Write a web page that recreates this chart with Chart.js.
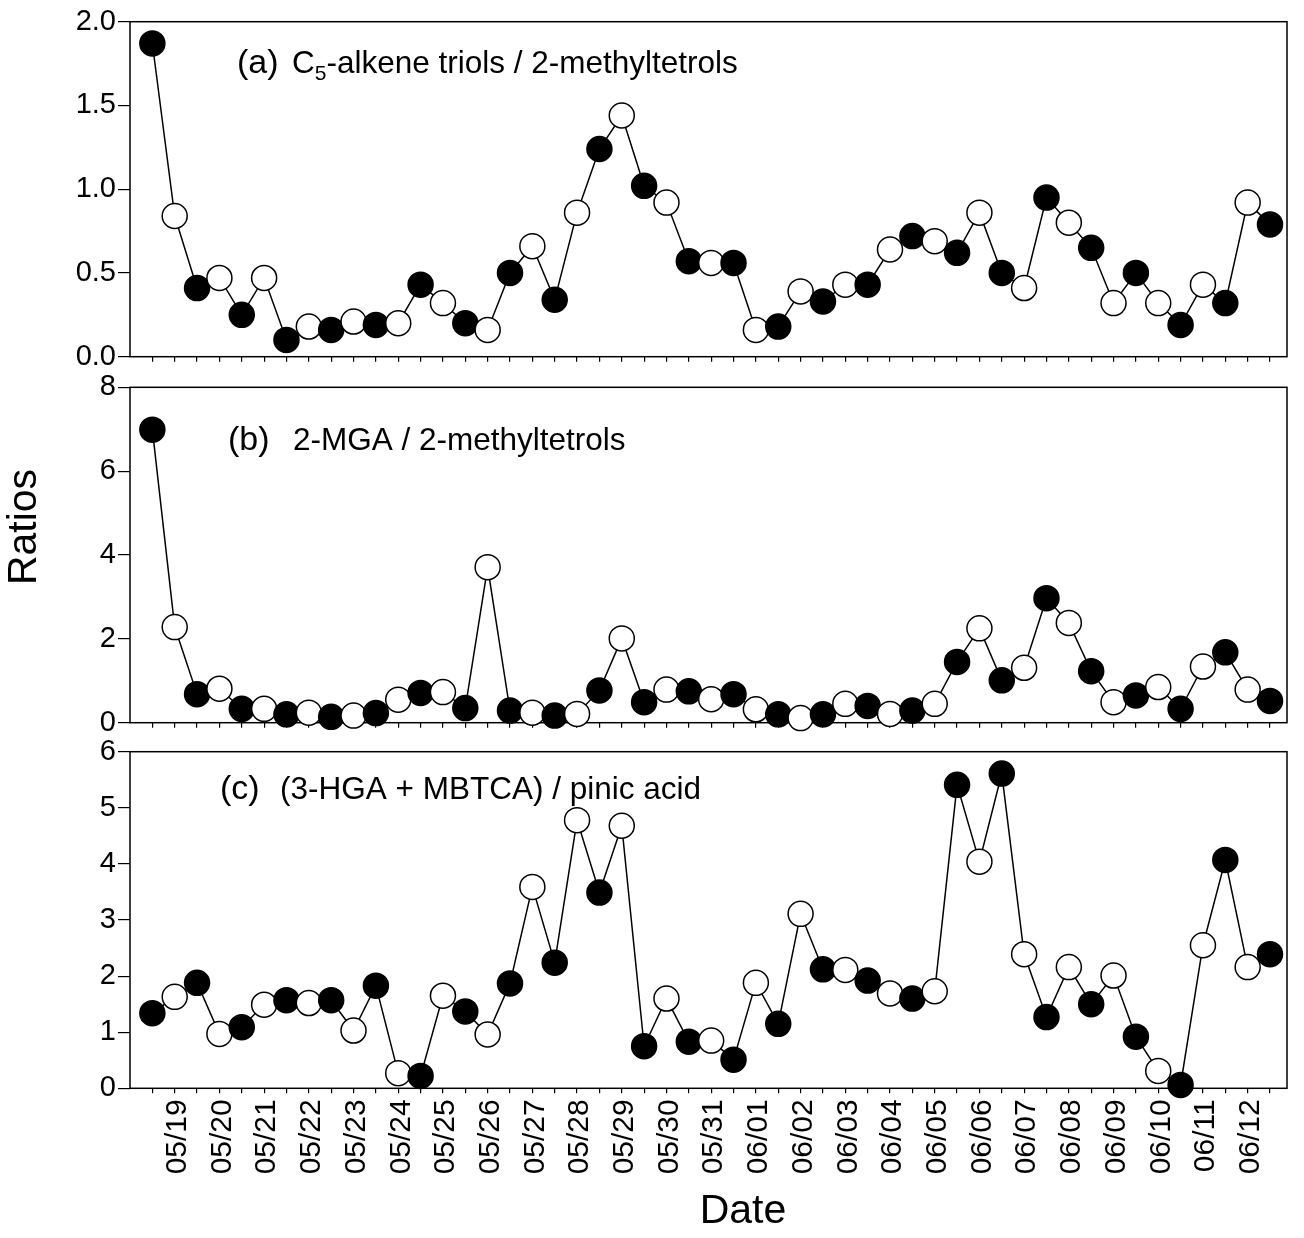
<!DOCTYPE html>
<html>
<head>
<meta charset="utf-8">
<title>Ratios</title>
<script src="https://cdn.jsdelivr.net/npm/chart.js@4.4.1/dist/chart.umd.min.js"></script>
<style>
  html, body { margin: 0; padding: 0; background: #fff; }
  #wrap { position: relative; width: 1304px; height: 1238px; overflow: hidden; background: #fff; }
  #wrap canvas { position: absolute; left: 0; }
</style>
</head>
<body>
<div id="wrap">
  <canvas id="chartA" width="1304" height="380" style="top:0px"></canvas>
  <canvas id="chartB" width="1304" height="380" style="top:366px"></canvas>
  <canvas id="chartC" width="1304" height="508" style="top:730px"></canvas>
</div>
<script>
// tick labels on the shared date axis (one every second sample)
const dateLabels = ['05/19', '05/20', '05/21', '05/22', '05/23', '05/24', '05/25', '05/26',
  '05/27', '05/28', '05/29', '05/30', '05/31', '06/01', '06/02', '06/03', '06/04', '06/05',
  '06/06', '06/07', '06/08', '06/09', '06/10', '06/11', '06/12'];

// (a) C5-alkene triols / 2-methyltetrols
const ratioA = [1.87, 0.84, 0.41, 0.47, 0.25, 0.47, 0.10, 0.18, 0.16, 0.21,
  0.19, 0.20, 0.43, 0.32, 0.20, 0.16, 0.50, 0.66, 0.34, 0.86,
  1.24, 1.44, 1.02, 0.92, 0.57, 0.56, 0.56, 0.16, 0.18, 0.39,
  0.33, 0.43, 0.43, 0.64, 0.72, 0.69, 0.62, 0.86, 0.50, 0.41,
  0.95, 0.80, 0.65, 0.32, 0.50, 0.32, 0.19, 0.43, 0.32, 0.92, 0.79];

// (b) 2-MGA / 2-methyltetrols
const ratioB = [6.99, 2.28, 0.68, 0.81, 0.33, 0.33, 0.20, 0.24, 0.14, 0.17,
  0.23, 0.55, 0.71, 0.73, 0.35, 3.71, 0.29, 0.24, 0.17, 0.21,
  0.77, 2.01, 0.49, 0.79, 0.75, 0.56, 0.68, 0.32, 0.20, 0.11,
  0.20, 0.45, 0.40, 0.21, 0.29, 0.45, 1.45, 2.25, 1.01, 1.31,
  2.97, 2.38, 1.23, 0.49, 0.65, 0.85, 0.33, 1.34, 1.68, 0.79, 0.52];

// (c) (3-HGA + MBTCA) / pinic acid
const ratioC = [1.34, 1.63, 1.88, 0.97, 1.09, 1.49, 1.57, 1.52, 1.57, 1.03,
  1.83, 0.27, 0.22, 1.65, 1.37, 0.96, 1.87, 3.59, 2.24, 4.78,
  3.49, 4.68, 0.75, 1.60, 0.83, 0.85, 0.51, 1.88, 1.15, 3.11,
  2.12, 2.11, 1.92, 1.69, 1.60, 1.73, 5.41, 4.04, 5.61, 2.39,
  1.27, 2.16, 1.50, 2.01, 0.92, 0.31, 0.06, 2.55, 4.07, 2.16, 2.39];

// sample number along the x axis
const sampleIndex = ratioA.map((_, i) => i);

const FONT = "'Liberation Sans', Arial, Helvetica, sans-serif";
Chart.defaults.font.family = FONT;
Chart.defaults.color = '#000';

// box round the plot area, drawn under the markers
const framePlugin = {
  id: 'frame',
  beforeDatasetsDraw(chart) {
    const { ctx, chartArea: a } = chart;
    ctx.save();
    ctx.strokeStyle = '#000';
    ctx.lineWidth = 1.5;
    ctx.strokeRect(a.left, a.top, a.right - a.left, a.bottom - a.top);
    ctx.restore();
  }
};

// free text (panel titles, axis captions); x/y are page coords
function captionPlugin(items, top) {
  return {
    id: 'captions',
    afterDraw(chart) {
      const ctx = chart.ctx;
      items.forEach(item => {
        ctx.save();
        ctx.translate(item.x, item.y - top);
        if (item.rotate) ctx.rotate(item.rotate);
        ctx.fillStyle = '#000';
        ctx.textBaseline = item.baseline || 'alphabetic';
        ctx.textAlign = item.align || 'left';
        let x = 0;
        item.runs.forEach(run => {
          ctx.font = run.size + 'px ' + FONT;
          ctx.fillText(run.text, x, run.dy || 0);
          x += ctx.measureText(run.text).width;
        });
        ctx.restore();
      });
    }
  };
}

function makePanel(id, top, values, yMax, yStep, yFormat, xHeight, showDates, padTop, captions) {
  return new Chart(document.getElementById(id), {
    type: 'line',
    data: {
      datasets: [{
        data: values.map((v, i) => ({ x: sampleIndex[i], y: v })),
        borderColor: '#000',
        borderWidth: 1.5,
        tension: 0,
        pointRadius: 12.5,
        pointHoverRadius: 12.5,
        pointBorderWidth: 1.5,
        pointBorderColor: '#000',
        pointBackgroundColor: ctx => (ctx.dataIndex % 2 === 0 ? '#000' : '#fff'),
        clip: false
      }]
    },
    options: {
      responsive: false,
      animation: false,
      events: [],
      layout: { padding: { top: padTop, right: 17, bottom: 0, left: 0 } },
      plugins: { legend: { display: false }, tooltip: { enabled: false } },
      scales: {
        x: {
          type: 'linear',
          min: -1,
          max: 50.76,
          afterBuildTicks: s => { s.ticks = sampleIndex.map(i => ({ value: i })); },
          afterFit: s => { s.height = xHeight; s.paddingLeft = 0; s.paddingRight = 0; },
          grid: { drawOnChartArea: false, tickLength: 5, color: '#000', lineWidth: 1.2 },
          border: { display: false },
          ticks: {
            autoSkip: false,
            minRotation: 90,
            maxRotation: 90,
            padding: 6,
            labelOffset: 3,
            font: { size: 30 },
            color: '#000',
            callback: v => (showDates && v % 2 === 1 ? dateLabels[(v - 1) / 2] : '')
          }
        },
        y: {
          min: 0,
          max: yMax,
          afterFit: s => { s.width = 130; s.paddingTop = 0; s.paddingBottom = 0; },
          grid: { drawOnChartArea: false, tickLength: 12, color: '#000', lineWidth: 1.2 },
          border: { display: false },
          ticks: { stepSize: yStep, padding: 2, font: { size: 29 }, color: '#000', callback: yFormat }
        }
      }
    },
    plugins: [framePlugin, captionPlugin(captions, top)]
  });
}

makePanel('chartA', 0, ratioA, 2, 0.5, v => v.toFixed(1), 23.3, false, 21.7, [
  { x: 237, y: 73, runs: [{ text: '(a)', size: 34 }] },
  { x: 292, y: 73, runs: [
    { text: 'C', size: 31.5 },
    { text: '5', size: 21, dy: 7 },
    { text: '-alkene triols / 2-methyltetrols', size: 31.5 }
  ] }
]);

makePanel('chartB', 366, ratioB, 8, 2, v => String(v), 23.3, false, 21.3, [
  { x: 228, y: 450, runs: [{ text: '(b)', size: 34 }] },
  { x: 293, y: 450, runs: [{ text: '2-MGA / 2-methyltetrols', size: 31.5 }] },
  { x: 25, y: 527, rotate: -Math.PI / 2, align: 'center', baseline: 'middle',
    runs: [{ text: 'Ratios', size: 41 }] }
]);

makePanel('chartC', 730, ratioC, 6, 1, v => String(v), 149.7, true, 21.7, [
  { x: 220, y: 799, runs: [{ text: '(c)', size: 34 }] },
  { x: 280, y: 799, runs: [{ text: '(3-HGA + MBTCA) / pinic acid', size: 31.5 }] },
  { x: 743, y: 1212, align: 'center', baseline: 'middle', runs: [{ text: 'Date', size: 41 }] }
]);
</script>
</body>
</html>
